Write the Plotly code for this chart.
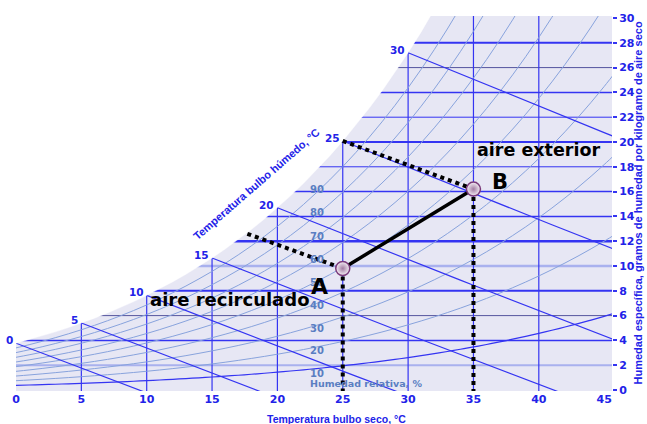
import numpy as np
import plotly.graph_objects as go

# Saturation vapour pressure of water (kPa) at each whole degree, from steam tables
t_table = list(range(0, 47))
ps_table = [0.6113, 0.6571, 0.7060, 0.7581, 0.8135, 0.8725, 0.9353, 1.0020, 1.0729, 1.1481,
            1.2281, 1.3127, 1.4027, 1.4979, 1.5988, 1.7056, 1.8185, 1.9380, 2.0644, 2.1978,
            2.3388, 2.4877, 2.6447, 2.8104, 2.9850, 3.1690, 3.3629, 3.5670, 3.7818, 4.0078,
            4.2455, 4.4953, 4.7578, 5.0335, 5.3229, 5.6267, 5.9453, 6.2795, 6.6298, 6.9969,
            7.3814, 7.7840, 8.2054, 8.6463, 9.1075, 9.5898, 10.094]
p_atm = 101.325  # kPa

x_ticks = [0, 5, 10, 15, 20, 25, 30, 35, 40, 45]
y_ticks = list(range(0, 31, 2))
dry_bulb_lines = [5, 10, 15, 20, 25, 30, 35, 40]
wet_bulb_temps = [0, 5, 10, 15, 20, 25, 30]
rh_levels = [10, 20, 30, 40, 50, 60, 70, 80, 90]

# Process states: recirculated air (A) and outdoor air (B)
state_names = ["A", "B"]
state_t = [25.0, 35.0]
state_w = [9.8, 16.2]
# Saturation end of the wet-bulb line through A
a_wb_start_t = 17.7
a_wb_start_w = 12.6

BLUE = "#3434f2"
TXT_BLUE = "#2222e8"
RH_BLUE = "#88a3dd"
RH_TXT = "#5a7ec2"
LAVENDER = "#e7e7f4"


def w_from_pv(pv):
    """Humidity ratio in g/kg dry air from vapour partial pressure (kPa)."""
    return 622.0 * pv / (p_atm - pv)


w_sat = [w_from_pv(p) for p in ps_table]

fig = go.Figure()

# Constant humidity-ratio lines (masked above the saturation curve later)
h_style = {
    2: (2.0, "#a9b1ee"), 4: (1.5, BLUE), 6: (1.0, "#55559e"), 8: (2.0, BLUE),
    10: (2.5, "#a9b1ee"), 12: (2.5, BLUE), 14: (1.5, BLUE), 16: (1.5, BLUE),
    18: (1.0, BLUE), 20: (2.0, BLUE), 22: (1.0, BLUE), 24: (1.5, BLUE),
    26: (1.0, "#55559e"), 28: (2.0, BLUE),
}
for w in y_ticks[1:-1]:
    lw, col = h_style[w]
    fig.add_trace(go.Scatter(x=[-1, 47], y=[w, w], mode="lines",
                             line=dict(color=col, width=lw), hoverinfo="skip"))

# Dry-bulb verticals
for t in dry_bulb_lines:
    fig.add_trace(go.Scatter(x=[t, t], y=[-1, 31], mode="lines",
                             line=dict(color=BLUE, width=1.2), hoverinfo="skip"))

# Relative humidity curves
for rh in rh_levels:
    ws = [w_from_pv(rh / 100.0 * p) for p in ps_table]
    col, lw = (BLUE, 1.2) if rh == 10 else (RH_BLUE, 1.0)
    fig.add_trace(go.Scatter(x=t_table, y=ws, mode="lines", line_shape="spline",
                             line=dict(color=col, width=lw), hoverinfo="skip"))

# Wet-bulb lines from the saturation curve
for twb in wet_bulb_temps:
    ws = w_sat[twb] / 1000.0
    ts = [t for t in t_table if t >= twb]
    wl = [((2501 - 2.326 * twb) * ws - 1.006 * (t - twb)) /
          (2501 + 1.86 * t - 4.186 * twb) * 1000.0 for t in ts]
    fig.add_trace(go.Scatter(x=ts, y=wl, mode="lines",
                             line=dict(color=BLUE, width=1.2), hoverinfo="skip"))

# White area beyond the saturation curve
mask_x = t_table + [t_table[-1], -1, -1]
mask_y = w_sat + [80, 80, w_sat[0]]
fig.add_trace(go.Scatter(x=mask_x, y=mask_y, mode="lines", fill="toself",
                         fillcolor="white", line=dict(color="white", width=0.5),
                         line_shape="linear", hoverinfo="skip"))

DOT = "4px,4px"
# Dotted guides: wet-bulb line through A, wet-bulb 25 °C line to B, verticals
fig.add_trace(go.Scatter(x=[a_wb_start_t, state_t[0]], y=[a_wb_start_w, state_w[0]],
                         mode="lines", line=dict(color="black", width=4, dash=DOT),
                         hoverinfo="skip"))
fig.add_trace(go.Scatter(x=[25, state_t[1]], y=[w_sat[25], state_w[1]],
                         mode="lines", line=dict(color="black", width=4, dash=DOT),
                         hoverinfo="skip"))
for t, w in zip(state_t, state_w):
    fig.add_trace(go.Scatter(x=[t, t], y=[w, -0.2], mode="lines",
                             line=dict(color="black", width=4, dash=DOT),
                             hoverinfo="skip"))

# Mixing line A-B
fig.add_trace(go.Scatter(x=state_t, y=state_w, mode="lines",
                         line=dict(color="black", width=3.5), hoverinfo="skip"))
fig.add_trace(go.Scatter(x=state_t, y=state_w, mode="markers",
                         marker=dict(size=14, color="#f6f0f6",
                                     gradient=dict(type="radial", color="#a27ca2"),
                                     line=dict(color="#7a3a7a", width=1.5)),
                         hoverinfo="skip"))

ann = []
# Wet-bulb temperature labels on the saturation curve
for twb in wet_bulb_temps:
    ann.append(dict(x=twb, y=w_sat[twb], text=str(twb), showarrow=False,
                    xanchor="right", yanchor="middle", xshift=-1, yshift=3,
                    font=dict(family="DejaVu Sans", size=10.5, color=TXT_BLUE, weight=700)))
# Relative humidity labels, set just left of the 25 °C line
for rh in rh_levels:
    ann.append(dict(x=23, y=w_from_pv(rh / 100.0 * ps_table[23]), text=str(rh),
                    showarrow=False, xanchor="center", yanchor="middle",
                    xshift=0, yshift=-5 + (rh - 10) / 10.0,
                    font=dict(family="DejaVu Sans", size=10, color=RH_TXT, weight=700)))
ann.append(dict(x=26.8, y=0.5, text="Humedad relativa, %", showarrow=False,
                xanchor="center", yanchor="middle",
                font=dict(family="DejaVu Sans", size=9.5, color=RH_TXT, weight=700)))
ann.append(dict(x=18.4, y=16.6, text="Temperatura bulbo húmedo, °C", showarrow=False,
                textangle=-41, xanchor="center", yanchor="middle",
                font=dict(family="Liberation Sans", size=11, color=TXT_BLUE, weight=700)))
ann.append(dict(x=24.5, xref="x", y=-0.074, yref="paper", text="Temperatura bulbo seco, °C",
                showarrow=False, xanchor="center", yanchor="middle",
                font=dict(family="Liberation Sans", size=10.5, color=TXT_BLUE, weight=700)))
ann.append(dict(x=1.0, xref="paper", y=0.5, yref="paper", xanchor="center", yanchor="middle",
                xshift=25,
                text="Humedad específica, gramos de humedad por kilogramo de aire seco",
                textangle=-90, showarrow=False,
                font=dict(family="Liberation Sans", size=11, color=TXT_BLUE, weight=700)))
# State labels
ann.append(dict(x=23.2, y=8.35, text="A", showarrow=False, xanchor="center", yanchor="middle",
                font=dict(family="DejaVu Sans", size=22, color="black", weight=700)))
ann.append(dict(x=37.0, y=16.8, text="B", showarrow=False, xanchor="center", yanchor="middle",
                font=dict(family="DejaVu Sans", size=21, color="black", weight=700)))
ann.append(dict(x=40.0, y=19.35, text="aire exterior", showarrow=False,
                xanchor="center", yanchor="middle",
                font=dict(family="DejaVu Sans", size=17.5, color="black", weight=700)))
ann.append(dict(x=16.4, y=7.3, text="aire recirculado", showarrow=False,
                xanchor="center", yanchor="middle",
                font=dict(family="DejaVu Sans", size=18, color="black", weight=700)))

fig.update_layout(
    width=647, height=424,
    margin=dict(l=13, r=28, t=13, b=33),
    paper_bgcolor="white", plot_bgcolor=LAVENDER,
    showlegend=False, annotations=ann,
    xaxis=dict(range=[0, 45.6], tickvals=x_ticks, showgrid=False, zeroline=False,
               showline=False, ticks="",
               tickfont=dict(family="DejaVu Sans", size=11, color=TXT_BLUE, weight=700)),
    yaxis=dict(range=[-0.08, 30.16], tickvals=y_ticks, side="right", showgrid=False,
               zeroline=False, showline=False, ticks="outside", ticklen=4,
               tickcolor=BLUE, tickwidth=1.5,
               tickfont=dict(family="DejaVu Sans", size=11, color=TXT_BLUE, weight=700)),
)

fig.write_html("out.html")
